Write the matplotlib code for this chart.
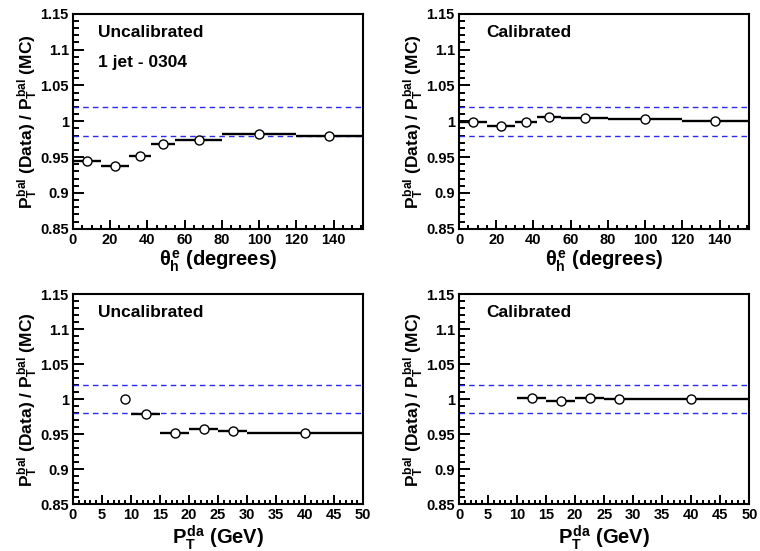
import matplotlib
matplotlib.use('Agg')
import matplotlib.pyplot as plt
import numpy as np
from matplotlib.ticker import MultipleLocator

plt.rcParams['font.family'] = ['Liberation Sans', 'DejaVu Sans']
plt.rcParams['font.weight'] = 'bold'
plt.rcParams['axes.labelweight'] = 'bold'
plt.rcParams['mathtext.fontset'] = 'custom'
plt.rcParams['mathtext.rm'] = 'Liberation Sans:bold'
plt.rcParams['mathtext.it'] = 'Liberation Sans:bold'
plt.rcParams['mathtext.bf'] = 'Liberation Sans:bold'

# theta_h^e bins (degrees)
theta_lo = [0, 15, 30, 42, 55, 80, 120]
theta_hi = [15, 30, 42, 55, 80, 120, 156]
theta_x = [7.5, 22.5, 36, 48.5, 67.5, 100, 137.5]
theta_uncal = [0.944, 0.938, 0.952, 0.968, 0.974, 0.982, 0.980]
theta_cal = [0.999, 0.993, 0.999, 1.006, 1.004, 1.003, 1.001]

# P_T^da bins (GeV)
pt_lo_uncal = [8.6, 10, 15, 20, 25, 30]
pt_hi_uncal = [9.4, 15, 20, 25, 30, 50]
pt_x_uncal = [9.0, 12.6, 17.6, 22.6, 27.6, 40]
pt_uncal = [1.000, 0.979, 0.952, 0.957, 0.954, 0.952]

pt_lo_cal = [10, 15, 20, 25, 30]
pt_hi_cal = [15, 20, 25, 30, 50]
pt_x_cal = [12.6, 17.6, 22.6, 27.6, 40]
pt_cal = [1.001, 0.998, 1.002, 1.000, 1.000]

band = [0.98, 1.02]

ylab = r'$P_T^{bal}$ (Data) / $P_T^{bal}$ (MC)'
theta_lab = r'$\theta_h^e$ (degrees)'
pt_lab = r'$P_T^{da}$ (GeV)'

fig = plt.figure(figsize=(7.6, 5.51), dpi=100)
positions = [
    [0.096, 0.585, 0.382, 0.390],
    [0.604, 0.585, 0.382, 0.390],
    [0.096, 0.085, 0.382, 0.381],
    [0.604, 0.085, 0.382, 0.381],
]

panels = [
    (theta_x, theta_lo, theta_hi, theta_uncal, 156, theta_lab, ['Uncalibrated', '1 jet - 0304'], 20, 5, 0.086),
    (theta_x, theta_lo, theta_hi, theta_cal, 156, theta_lab, ['Calibrated'], 20, 5, 0.093),
    (pt_x_uncal, pt_lo_uncal, pt_hi_uncal, pt_uncal, 50, pt_lab, ['Uncalibrated'], 5, 1, 0.086),
    (pt_x_cal, pt_lo_cal, pt_hi_cal, pt_cal, 50, pt_lab, ['Calibrated'], 5, 1, 0.093),
]

for pos, (x, lo, hi, y, xmax, xlab, texts, major, minor, tx) in zip(positions, panels):
    ax = fig.add_axes(pos)
    x = np.array(x)
    xerr = [x - np.array(lo), np.array(hi) - x]
    ax.errorbar(x, y, xerr=xerr, fmt='o', color='black', ecolor='black',
                elinewidth=1.7, capsize=0, markersize=6.5, markerfacecolor='white',
                markeredgecolor='black', markeredgewidth=1.0, zorder=3)
    for b in band:
        ax.axhline(b, color='#2a2af0', linestyle=(0, (4, 3)), linewidth=1.0, zorder=2)
    ax.set_xlim(0, xmax)
    ax.set_ylim(0.85, 1.15)
    ax.xaxis.set_major_locator(MultipleLocator(major))
    ax.xaxis.set_minor_locator(MultipleLocator(minor))
    ax.yaxis.set_minor_locator(MultipleLocator(0.01))
    ax.set_yticks([0.85, 0.9, 0.95, 1.0, 1.05, 1.1, 1.15])
    ax.set_yticklabels(['0.85', '0.9', '0.95', '1', '1.05', '1.1', '1.15'])
    ax.tick_params(which='both', direction='in', top=False, right=False,
                   labelsize=10.5, width=1.4, pad=3)
    ax.tick_params(axis='y', which='major', length=8)
    ax.tick_params(axis='y', which='minor', length=4)
    ax.tick_params(axis='x', which='major', length=6.5)
    ax.tick_params(axis='x', which='minor', length=3)
    for s in ax.spines.values():
        s.set_linewidth(1.5)
    ax.set_xlabel(xlab, fontsize=14.5, labelpad=1)
    ax.set_ylabel(ylab, fontsize=12.5, labelpad=0)
    for i, t in enumerate(texts):
        ax.text(tx, 0.915 - i * 0.143, t, transform=ax.transAxes, fontsize=12.5,
                fontweight='bold', va='center', ha='left')

fig.savefig('out.png', dpi=100)
